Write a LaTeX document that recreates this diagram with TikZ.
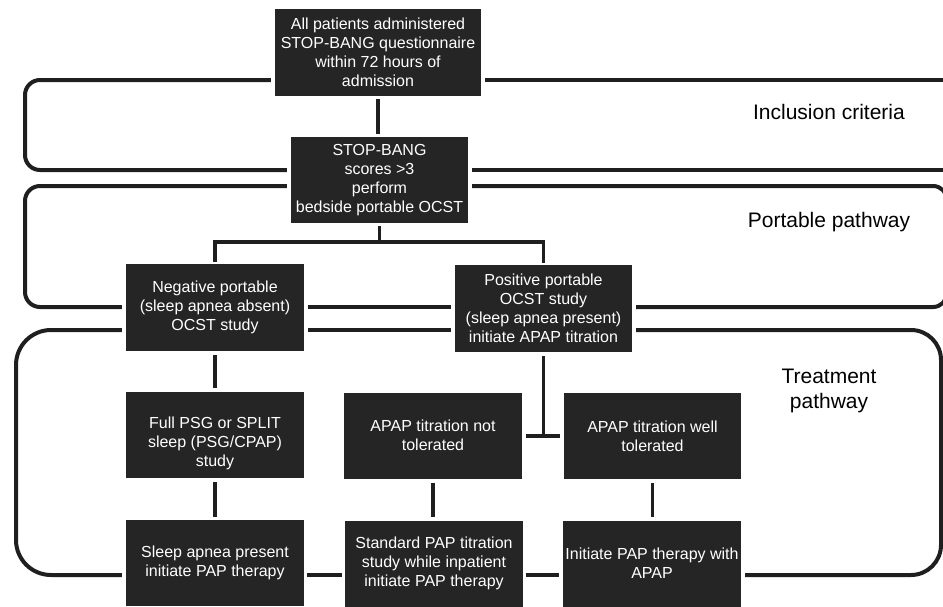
\documentclass[tikz,border=0pt]{standalone}
\usepackage{fontspec}
\setmainfont{Liberation Sans}
\usetikzlibrary{calc}
\definecolor{boxfill}{HTML}{252525}
\definecolor{linec}{HTML}{1F1F1F}
\begin{document}
\begin{tikzpicture}[x=1pt,y=-1pt,
  box/.style={fill=boxfill, text=white, font=\fontsize{16}{19}\selectfont,
    align=center, inner sep=0pt, minimum width=178pt, minimum height=86pt},
  conn/.style={draw=linec, line width=3.5pt},
  bracket/.style={draw=linec, line width=4pt},
  lab/.style={font=\fontsize{21}{25}\selectfont, text=black, inner sep=0pt, align=center}]
\useasboundingbox (0,0) rectangle (943,606);
\clip (0,0) rectangle (943,606);

% levels
\coordinate (yA) at (0,80);
\coordinate (yB) at (0,170);
\coordinate (yC) at (0,186);
\coordinate (yD) at (0,307);
\coordinate (yE) at (0,330);
\coordinate (yF) at (0,575);
\coordinate (yFork) at (0,242);
\coordinate (yT) at (0,436);
\coordinate (rEdge) at (950,0);

% boxes
\node[box, minimum width=206pt, minimum height=87pt] (top) at (378,52.5)
  {All patients administered\\STOP-BANG questionnaire\\within 72 hours of\\admission};
\node[box, minimum width=177pt] (sb) at (379.5,180)
  {STOP-BANG\\scores >3\\perform\\bedside portable OCST};
\node[box, minimum height=87pt] (neg) at (215,307.5)
  {Negative portable\\(sleep apnea absent)\\OCST study};
\node[box, minimum width=177pt, minimum height=87pt] (pos) at (543.5,308.5)
  {Positive portable\\OCST study\\(sleep apnea present)\\initiate APAP titration};
\node[box] (psg) at (215,435)
  {\raisebox{-9pt}[\height][\depth]{\begin{tabular}{@{}c@{}}Full PSG or SPLIT\\sleep (PSG/CPAP)\\study\end{tabular}}};
\node[box] (nottol) at (433,435.5)
  {APAP titration not\\tolerated};
\node[box, minimum width=177pt] (welltol) at (652.5,436)
  {APAP titration well\\tolerated};
\node[box] (sap) at (215,563)
  {Sleep apnea present\\initiate PAP therapy};
\node[box] (std) at (434,563.5)
  {Standard PAP titration\\study while inpatient\\initiate PAP therapy};
\node[box] (init) at (652,563.5)
  {Initiate PAP therapy with\\APAP};

% labels
\node[lab, anchor=base] (linc) at (829,119) {Inclusion criteria};
\node[lab, anchor=base] (lport) at (829,227) {Portable pathway};
\node[lab, anchor=north] (ltreat) at (829,368.5) {Treatment\\pathway};

% connectors
\draw[conn, shorten <=3pt, shorten >=3pt] (top.south) -- (top.south |- sb.north);
\draw[conn, shorten <=3pt] (sb.south) -- (sb.south |- yFork);
\draw[conn, shorten <=2pt, shorten >=2pt] (neg.north) -- (neg.north |- yFork) -- (pos.north |- yFork) -- (pos.north);
\draw[conn, shorten <=4pt, shorten >=4pt] (neg.south) -- (psg.north);
\draw[conn, shorten <=4pt, shorten >=3pt] (psg.south) -- (sap.north);
\draw[conn, shorten <=4pt] (pos.south) -- (pos.south |- yT);
\draw[conn, shorten <=4pt, shorten >=4pt] (nottol.east |- yT) -- (welltol.west |- yT);
\draw[conn, shorten <=4pt, shorten >=3pt] (nottol.south) -- (nottol.south |- std.north);
\draw[conn, shorten <=4pt, shorten >=3pt] (welltol.south) -- (welltol.south |- init.north);
\draw[conn, shorten <=3pt, shorten >=3pt] (sap.east |- yF) -- (std.west |- yF);
\draw[conn, shorten <=3pt, shorten >=4pt] (std.east |- yF) -- (init.west |- yF);

% inclusion criteria bracket
\draw[bracket, rounded corners=15pt, shorten <=4pt, shorten >=4pt]
  (top.west |- yA) -- (25,80) -- (25,170) -- (sb.west |- yB);
\draw[bracket, shorten <=4pt] (top.east |- yA) -- (rEdge |- yA);
\draw[bracket, shorten <=4pt] (sb.east |- yB) -- (rEdge |- yB);

% portable pathway bracket
\draw[bracket, rounded corners=15pt, shorten <=4pt, shorten >=4pt]
  (sb.west |- yC) -- (25,186) -- (25,307) -- (neg.west |- yD);
\draw[bracket, shorten <=4pt, shorten >=4pt] (neg.east |- yD) -- (pos.west |- yD);
\draw[bracket, rounded corners=14pt, shorten <=4pt, shorten >=4pt]
  (sb.east |- yC) -- (947,186) -- (947,307) -- (pos.east |- yD);

% treatment pathway bracket
\draw[bracket, rounded corners=35pt, shorten <=4pt, shorten >=4pt]
  (neg.west |- yE) -- (16,330) -- (16,575) -- (sap.west |- yF);
\draw[bracket, shorten <=4pt, shorten >=4pt] (neg.east |- yE) -- (pos.west |- yE);
\draw[bracket, rounded corners=30pt, shorten <=4pt, shorten >=4pt]
  (pos.east |- yE) -- (941,330) -- (941,575) -- (init.east |- yF);
\end{tikzpicture}
\end{document}
